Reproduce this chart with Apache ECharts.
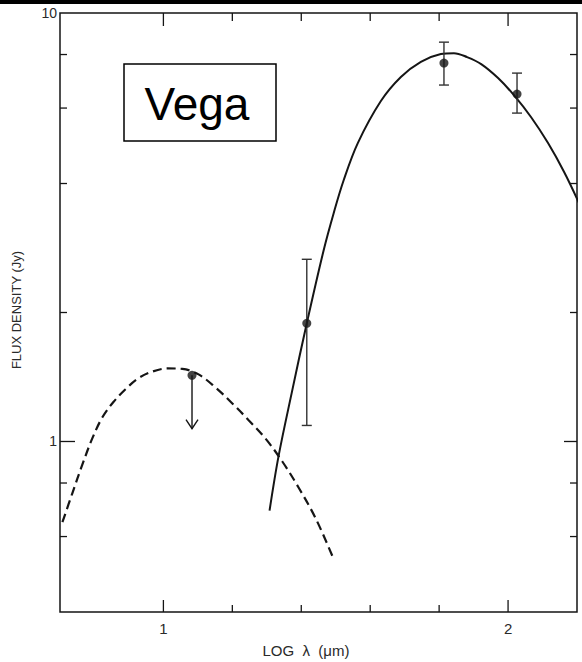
<!DOCTYPE html>
<html><head><meta charset="utf-8">
<script src="https://cdn.jsdelivr.net/npm/echarts@6/dist/echarts.min.js"></script>
<style>html,body{margin:0;padding:0;background:#fff}#c{width:582px;height:662px}</style>
</head><body><div id="c"></div><script>
// ---- data (log lambda [um], flux density [Jy]) ----
const solidCurve = [[1.308,0.690],[1.334,0.923],[1.372,1.295],[1.416,1.887],[1.465,2.795],[1.494,3.41],[1.523,4.07],[1.564,4.97],[1.631,6.23],[1.689,7.09],[1.747,7.69],[1.805,8.02],[1.843,8.06],[1.881,7.89],[1.922,7.60],[1.971,7.05],[2.017,6.43],[2.067,5.71],[2.116,4.97],[2.163,4.25],[2.206,3.60]];
const dashedCurve = [[0.707,0.648],[0.736,0.758],[0.765,0.884],[0.794,1.018],[0.823,1.139],[0.855,1.236],[0.890,1.324],[0.927,1.404],[0.968,1.456],[1.012,1.481],[1.055,1.477],[1.102,1.434],[1.151,1.337],[1.200,1.227],[1.248,1.120],[1.297,1.014],[1.345,0.898],[1.393,0.779],[1.442,0.661],[1.490,0.541]];
// measured points: [x, y, low, high]
const pointsErr = [[1.416,1.887,1.090,2.662],[1.814,7.64,6.79,8.55],[2.026,6.47,5.84,7.24]];
// upper limit: [x, y, arrowEnd]
const upperLimit = [[1.083,1.427,1.071]];
const xTicks = [1.0,1.2,1.4,1.6,1.8,2.0];
const xLabels = [1,2];
const yTicks = [0.6,0.8,1,2,4,6,8];
const yLabels = [1,10];
const xMin = 0.7, xMax = 2.2, yMin = 0.4, yMax = 10;

const ink = '#151515';
const textInk = '#2a2a2a';
const fam = '"Liberation Sans", "DejaVu Sans", sans-serif';

function tickSeries(data, side, majors, majLen, minLen) {
  return {
    type: 'custom', silent: true, z: 3, data,
    renderItem: (params, api) => {
      const xv = api.value(0), yv = api.value(1);
      const p = api.coord([xv, yv]);
      const v = (side === 'left' || side === 'right') ? yv : xv;
      const len = majors.some(m => Math.abs(m - v) < 1e-9) ? majLen : minLen;
      let s;
      if (side === 'left') s = {x1:p[0], y1:p[1], x2:p[0]+len, y2:p[1]};
      else if (side === 'right') s = {x1:p[0], y1:p[1], x2:p[0]-len, y2:p[1]};
      else if (side === 'bottom') s = {x1:p[0], y1:p[1], x2:p[0], y2:p[1]-len};
      else s = {x1:p[0], y1:p[1], x2:p[0], y2:p[1]+len};
      return {type:'line', shape:s, style:{stroke:ink, lineWidth:1.3}};
    }
  };
}

const staticGraphic = [
  {type:'rect', shape:{x:0, y:0, width:582, height:4}, style:{fill:'#000'}, z:10},
  {type:'rect', shape:{x:124, y:64, width:152, height:77}, style:{fill:'#fff', stroke:'#000', lineWidth:1.5}, z:10},
  {type:'text', x:197, y:104, style:{text:'Vega', fontSize:46, fontFamily:'"Liberation Sans", Arial, sans-serif', fill:'#000', align:'center', verticalAlign:'middle'}, z:11},
  {type:'text', x:16, y:310, rotation:Math.PI/2, style:{text:'FLUX DENSITY (Jy)', fontSize:13, fontFamily:fam, fill:textInk, align:'center', verticalAlign:'middle'}, z:10},
  {type:'text', x:306, y:650, style:{text:'LOG  \u03bb  (\u03bcm)', fontSize:15, fontFamily:fam, fill:textInk, align:'center', verticalAlign:'middle'}, z:10}
];

const chart = echarts.init(document.getElementById('c'), null, {renderer:'svg'});
chart.setOption({
  backgroundColor: '#fff',
  animation: false,
  grid: {left:60, right:5, top:13, bottom:50, show:true, borderColor:ink, borderWidth:1.5},
  xAxis: {type:'value', min:xMin, max:xMax, axisLine:{show:false}, axisTick:{show:false}, axisLabel:{show:false}, splitLine:{show:false}},
  yAxis: {type:'log', logBase:10, min:yMin, max:yMax, axisLine:{show:false}, axisTick:{show:false}, axisLabel:{show:false}, splitLine:{show:false}},
  graphic: staticGraphic,
  series: [
    {type:'line', data:dashedCurve, smooth:0.35, showSymbol:false, silent:true, lineStyle:{color:ink, width:2.2, type:[9,5]}, z:2},
    {type:'line', data:solidCurve, smooth:0.35, showSymbol:false, silent:true, lineStyle:{color:ink, width:2}, z:2},
    {type:'custom', silent:true, z:4, data:pointsErr,
      renderItem:(params, api) => {
        const x = api.value(0);
        const lo = api.coord([x, api.value(2)]);
        const hi = api.coord([x, api.value(3)]);
        const w = 5;
        return {type:'group', children:[
          {type:'line', shape:{x1:lo[0], y1:lo[1], x2:hi[0], y2:hi[1]}, style:{stroke:'#333', lineWidth:1.4}},
          {type:'line', shape:{x1:lo[0]-w, y1:lo[1], x2:lo[0]+w, y2:lo[1]}, style:{stroke:'#333', lineWidth:1.4}},
          {type:'line', shape:{x1:hi[0]-w, y1:hi[1], x2:hi[0]+w, y2:hi[1]}, style:{stroke:'#333', lineWidth:1.4}}
        ]};
      }},
    {type:'custom', silent:true, z:4, data:upperLimit,
      renderItem:(params, api) => {
        const x = api.value(0);
        const a = api.coord([x, api.value(1)]);
        const b = api.coord([x, api.value(2)]);
        return {type:'group', children:[
          {type:'line', shape:{x1:a[0], y1:a[1], x2:b[0], y2:b[1]}, style:{stroke:ink, lineWidth:1.4}},
          {type:'polyline', shape:{points:[[b[0]-6, b[1]-9],[b[0], b[1]],[b[0]+6, b[1]-9]]}, style:{stroke:ink, lineWidth:1.4, fill:'none'}}
        ]};
      }},
    {type:'scatter', data:pointsErr.map(d => [d[0], d[1]]).concat(upperLimit.map(d => [d[0], d[1]])), symbol:'circle', symbolSize:9, itemStyle:{color:ink}, silent:true, z:5},
    tickSeries(yTicks.map(v => [xMin, v]), 'left', yLabels, 15, 7),
    tickSeries(yTicks.map(v => [xMax, v]), 'right', yLabels, 13, 7),
    tickSeries(xTicks.map(v => [v, yMin]), 'bottom', xLabels, 12, 7),
    tickSeries(xTicks.map(v => [v, yMax]), 'top', xLabels, 13, 8)
  ]
});

// tick labels placed through the chart's own axis scales
const labelGraphic = [];
yLabels.forEach(v => {
  const p = chart.convertToPixel({gridIndex:0}, [xMin, v]);
  labelGraphic.push({type:'text', x:p[0]-3, y:p[1], style:{text:String(v), fontSize:14, fontFamily:fam, fill:textInk, align:'right', verticalAlign:'middle'}, z:10});
});
xLabels.forEach(v => {
  const p = chart.convertToPixel({gridIndex:0}, [v, yMin]);
  labelGraphic.push({type:'text', x:p[0], y:p[1]+16, style:{text:String(v), fontSize:15, fontFamily:fam, fill:textInk, align:'center', verticalAlign:'middle'}, z:10});
});
chart.setOption({graphic: staticGraphic.concat(labelGraphic)}, {replaceMerge:['graphic']});
</script></body></html>
